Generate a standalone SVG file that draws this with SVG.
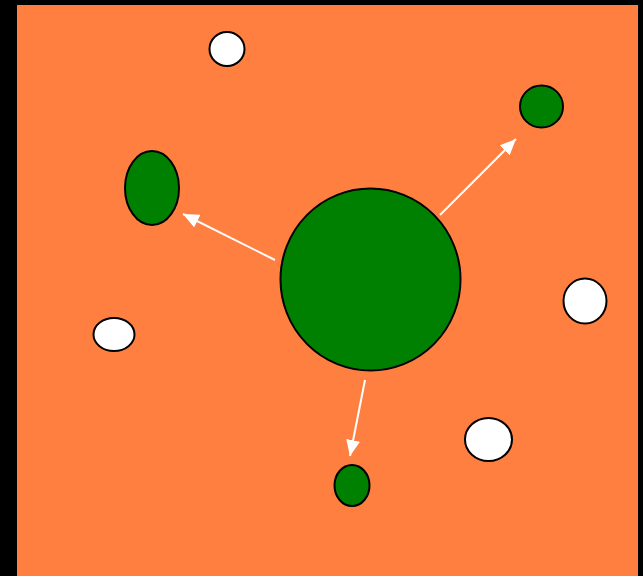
<svg xmlns="http://www.w3.org/2000/svg" width="643" height="576" viewBox="0 0 643 576">
<style>
.g{fill:#008000;stroke:#000;stroke-width:2}
.w{fill:#fff;stroke:#000;stroke-width:2}
.c{stroke:#fff;stroke-width:2;fill:none;marker-end:url(#ah)}
</style>
<defs>
<marker id="ah" markerUnits="userSpaceOnUse" markerWidth="16" markerHeight="14" refX="16" refY="7" orient="auto">
<path d="M0,0 L16,7 L0,14 Z" fill="#fff"/>
</marker>
</defs>
<rect x="0" y="0" width="643" height="576" fill="#000"/>
<rect x="17" y="5" width="621" height="571" fill="#FF7F40"/>
<g id="connectors">
<line class="c" x1="275" y1="260" x2="183" y2="214"/>
<line class="c" x1="440" y1="215" x2="516" y2="139"/>
<line class="c" x1="365" y1="380" x2="350" y2="456"/>
</g>
<g id="center"><ellipse class="g" cx="370.5" cy="279.5" rx="90" ry="91"/></g>
<g id="left"><ellipse class="g" cx="152" cy="188" rx="27" ry="37"/></g>
<g id="topright"><ellipse class="g" cx="541.5" cy="106.5" rx="21.5" ry="21"/></g>
<g id="bottom"><ellipse class="g" cx="352" cy="485.5" rx="17.5" ry="20.5"/></g>
<g id="w1"><ellipse class="w" cx="114" cy="334.5" rx="20.5" ry="16.5"/></g>
<g id="w2"><ellipse class="w" cx="227" cy="49" rx="17.5" ry="17"/></g>
<g id="w3"><ellipse class="w" cx="585" cy="301" rx="21.5" ry="22.5"/></g>
<g id="w4"><ellipse class="w" cx="488.5" cy="439.5" rx="23.5" ry="21.5"/></g>
</svg>
